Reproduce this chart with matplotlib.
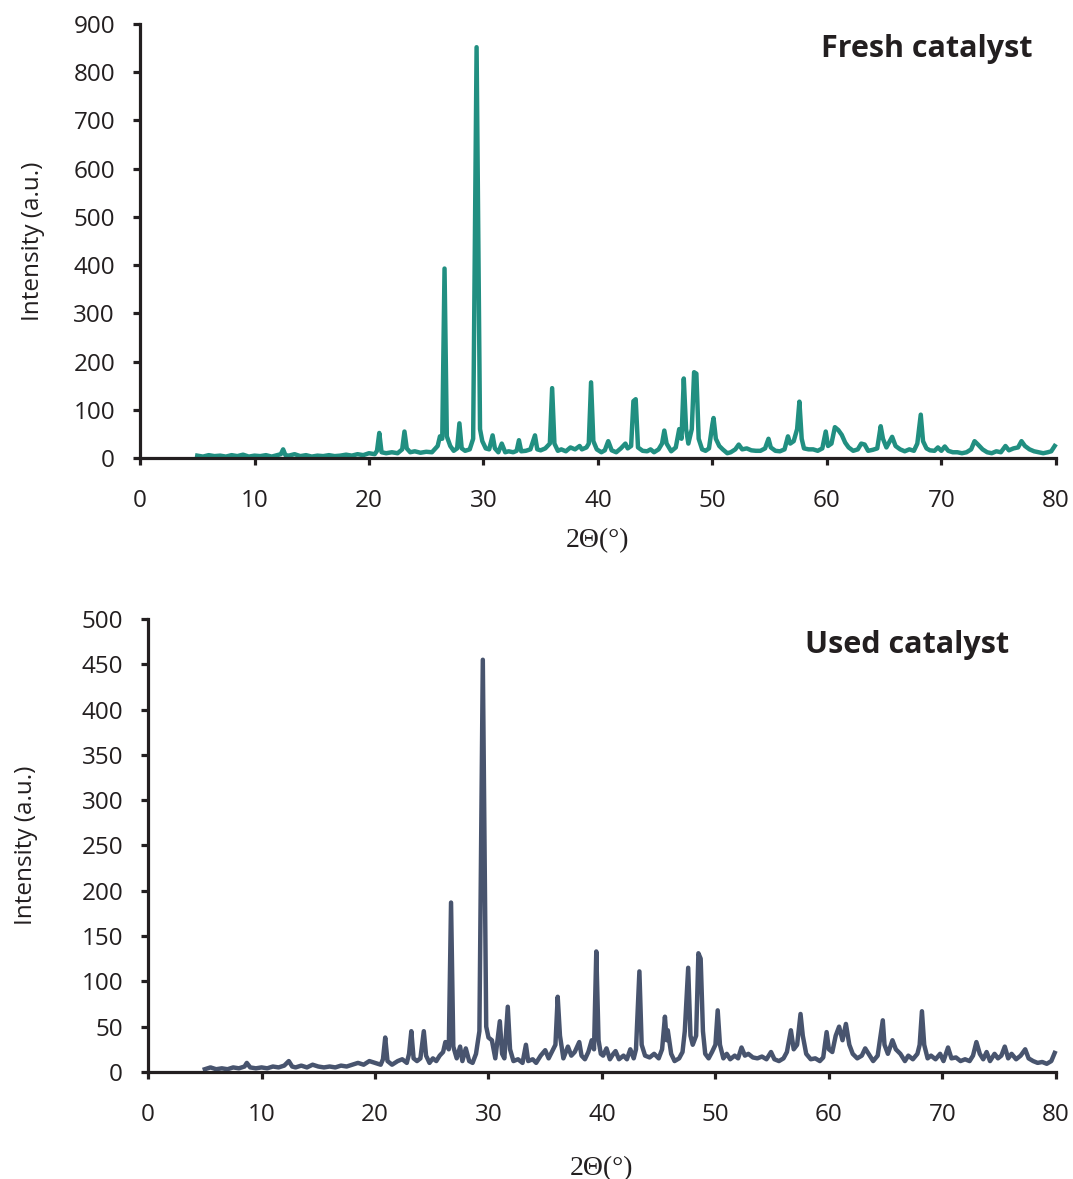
import matplotlib
matplotlib.use("Agg")
import matplotlib.pyplot as plt

# XRD pattern: 2-theta (deg) and intensity (a.u.)
fresh_x = [5.0, 5.5, 6.0, 6.5, 7.0, 7.5, 8.0, 8.5, 9.0, 9.5, 10.0, 10.5, 11.0, 11.5, 12.0, 12.3, 12.5, 12.7,
           13.0, 13.5, 14.0, 14.5, 15.0, 15.5, 16.0, 16.5, 17.0, 17.5, 18.0, 18.5, 19.0, 19.5, 20.0, 20.5,
           20.7, 20.9, 21.1, 21.5, 22.0, 22.5, 22.9, 23.1, 23.3, 23.6, 24.0, 24.5, 25.0, 25.5, 26.0, 26.2,
           26.4, 26.6, 26.8, 27.1, 27.4, 27.7, 27.9, 28.1, 28.4, 28.8, 29.1, 29.4, 29.7, 29.9, 30.2, 30.5,
           30.8, 31.0, 31.3, 31.6, 31.9, 32.2, 32.6, 32.9, 33.1, 33.3, 33.7, 34.1, 34.5, 34.7, 35.0, 35.4,
           35.8, 36.0, 36.2, 36.5, 36.8, 37.2, 37.6, 38.0, 38.4, 38.6, 39.0, 39.2, 39.4, 39.6, 39.9, 40.3,
           40.6, 40.9, 41.2, 41.6, 42.0, 42.4, 42.6, 42.9, 43.1, 43.3, 43.5, 43.9, 44.3, 44.6, 44.9, 45.3,
           45.6, 45.8, 46.0, 46.4, 46.8, 47.1, 47.3, 47.5, 47.7, 47.9, 48.2, 48.4, 48.6, 48.8, 49.1, 49.4,
           49.7, 50.0, 50.1, 50.3, 50.6, 50.9, 51.3, 51.6, 52.0, 52.3, 52.6, 53.0, 53.4, 53.8, 54.2, 54.6,
           54.9, 55.1, 55.5, 55.9, 56.3, 56.6, 56.8, 57.1, 57.4, 57.6, 57.8, 58.0, 58.4, 58.8, 59.2, 59.6,
           59.9, 60.1, 60.4, 60.7, 61.0, 61.3, 61.6, 61.9, 62.3, 62.7, 63.0, 63.3, 63.6, 64.0, 64.4, 64.7,
           64.9, 65.2, 65.5, 65.7, 66.0, 66.4, 66.8, 67.2, 67.6, 67.9, 68.2, 68.4, 68.7, 69.0, 69.4, 69.7,
           70.0, 70.3, 70.6, 71.0, 71.4, 71.8, 72.2, 72.6, 72.9, 73.2, 73.6, 74.0, 74.4, 74.8, 75.2, 75.6,
           75.9, 76.3, 76.7, 77.0, 77.3, 77.7, 78.1, 78.5, 78.9, 79.3, 79.6, 79.9]
fresh_y = [5, 3, 6, 4, 5, 3, 6, 4, 7, 3, 5, 4, 6, 3, 6, 8, 18, 6,
           5, 8, 4, 6, 3, 5, 4, 6, 4, 5, 7, 5, 8, 6, 10, 8,
           15, 52, 12, 10, 12, 10, 18, 55, 20, 12, 14, 11, 13, 12, 25, 45,
           40, 393, 45, 25, 15, 20, 72, 20, 15, 18, 40, 852, 60, 35, 20, 18,
           47, 20, 12, 30, 12, 14, 12, 15, 37, 14, 15, 18, 47, 18, 16, 20,
           30, 145, 30, 15, 18, 14, 22, 18, 25, 18, 22, 30, 157, 35, 18, 12,
           16, 35, 16, 12, 20, 30, 20, 25, 118, 122, 22, 15, 14, 18, 12, 18,
           30, 57, 30, 14, 22, 60, 40, 165, 60, 30, 60, 178, 175, 40, 18, 15,
           20, 70, 83, 40, 25, 18, 10, 12, 18, 28, 18, 20, 16, 15, 15, 20,
           40, 22, 15, 14, 18, 45, 30, 35, 60, 117, 40, 20, 18, 18, 15, 20,
           55, 25, 30, 64, 58, 48, 32, 22, 15, 18, 30, 28, 15, 17, 20, 66,
           40, 22, 35, 44, 25, 18, 14, 18, 15, 30, 90, 35, 20, 16, 15, 22,
           15, 24, 15, 12, 12, 10, 12, 18, 35, 28, 18, 12, 10, 14, 12, 25,
           16, 20, 22, 35, 25, 18, 14, 12, 10, 12, 14, 25]

used_x = [5.0, 5.5, 6.0, 6.5, 7.0, 7.5, 8.0, 8.5, 8.7, 9.0, 9.5, 10.0, 10.5, 11.0, 11.5, 12.0, 12.4, 12.7,
          13.0, 13.5, 14.0, 14.5, 15.0, 15.5, 16.0, 16.5, 17.0, 17.5, 18.0, 18.5, 19.0, 19.5, 20.0, 20.5,
          20.7, 20.9, 21.1, 21.5, 22.0, 22.4, 22.8, 23.0, 23.2, 23.4, 23.7, 24.0, 24.3, 24.5, 24.8, 25.1,
          25.4, 25.7, 26.0, 26.2, 26.5, 26.7, 26.9, 27.2, 27.5, 27.7, 28.0, 28.3, 28.6, 28.9, 29.2, 29.5,
          29.8, 30.0, 30.3, 30.6, 31.0, 31.2, 31.4, 31.7, 31.9, 32.2, 32.6, 33.0, 33.3, 33.5, 33.9, 34.2,
          34.6, 35.0, 35.3, 35.7, 35.9, 36.1, 36.3, 36.6, 37.0, 37.3, 37.6, 38.0, 38.2, 38.5, 38.8, 39.1,
          39.3, 39.5, 39.7, 39.9, 40.1, 40.4, 40.7, 41.0, 41.2, 41.5, 41.9, 42.2, 42.5, 42.8, 43.0, 43.3,
          43.5, 43.8, 44.2, 44.6, 45.0, 45.3, 45.55, 45.7, 45.8, 46.1, 46.4, 46.8, 47.1, 47.3, 47.6, 47.8,
          48.0, 48.3, 48.5, 48.7, 48.9, 49.1, 49.4, 49.7, 50.0, 50.2, 50.4, 50.7, 51.0, 51.3, 51.7, 52.0,
          52.3, 52.6, 52.9, 53.3, 53.7, 54.1, 54.5, 54.9, 55.2, 55.6, 56.0, 56.3, 56.65, 56.9, 57.2, 57.5,
          57.7, 58.0, 58.4, 58.8, 59.2, 59.5, 59.8, 60.0, 60.3, 60.6, 60.9, 61.2, 61.5, 61.8, 62.1, 62.5,
          62.9, 63.2, 63.5, 63.9, 64.3, 64.75, 64.9, 65.2, 65.6, 65.9, 66.3, 66.7, 67.0, 67.4, 67.8, 68.0,
          68.2, 68.4, 68.7, 69.0, 69.4, 69.8, 70.1, 70.5, 70.8, 71.2, 71.6, 72.0, 72.4, 72.7, 73.0, 73.3,
          73.6, 73.9, 74.2, 74.6, 74.9, 75.2, 75.5, 75.8, 76.1, 76.5, 76.9, 77.3, 77.6, 78.0, 78.4, 78.8,
          79.2, 79.6, 79.9]
used_y = [3, 5, 3, 4, 3, 5, 4, 6, 10, 5, 4, 5, 4, 6, 5, 7, 12, 6,
          5, 7, 5, 8, 6, 5, 6, 5, 7, 6, 8, 10, 8, 12, 10, 8,
          14, 38, 12, 8, 12, 14, 10, 20, 45, 15, 12, 15, 45, 18, 10, 15,
          12, 18, 22, 33, 25, 187, 28, 15, 28, 12, 26, 12, 10, 20, 45, 455,
          50, 38, 35, 15, 56, 20, 15, 72, 25, 12, 14, 10, 30, 12, 14, 10,
          18, 24, 15, 25, 30, 83, 40, 15, 28, 18, 22, 33, 18, 14, 22, 35,
          25, 133, 35, 20, 18, 26, 14, 20, 23, 14, 18, 14, 25, 15, 25, 111,
          30, 18, 16, 20, 15, 25, 61, 35, 46, 20, 12, 15, 22, 45, 115, 40,
          30, 40, 131, 125, 45, 20, 15, 22, 30, 68, 30, 15, 20, 14, 18, 15,
          27, 18, 20, 16, 15, 17, 14, 22, 14, 12, 15, 22, 46, 25, 30, 64,
          40, 20, 14, 15, 12, 16, 44, 25, 22, 40, 50, 35, 53, 30, 20, 15,
          18, 26, 20, 12, 18, 57, 30, 20, 35, 25, 20, 12, 18, 14, 20, 30,
          67, 30, 15, 18, 14, 20, 12, 27, 15, 16, 12, 14, 12, 18, 33, 20,
          14, 22, 12, 20, 15, 18, 28, 15, 20, 14, 18, 25, 15, 12, 10, 11,
          9, 12, 21]

fresh_ticks = [0, 100, 200, 300, 400, 500, 600, 700, 800, 900]
used_ticks = [0, 50, 100, 150, 200, 250, 300, 350, 400, 450, 500]
x_ticks = [0, 10, 20, 30, 40, 50, 60, 70, 80]

plt.rcParams['font.family'] = ['Open Sans', 'DejaVu Sans']

fig = plt.figure(figsize=(10.73, 11.79), dpi=100)
ax1 = fig.add_axes([0.1305, 0.6115, 0.8535, 0.3681])
ax2 = fig.add_axes([0.1380, 0.0908, 0.8460, 0.3842])


def style(ax, yticks, label, label_xy, ypad, xpad):
    ax.set_xlim(0, 80)
    ax.set_ylim(0, yticks[-1])
    ax.set_xticks(x_ticks)
    ax.set_yticks(yticks)
    for side in ['top', 'right']:
        ax.spines[side].set_visible(False)
    for side in ['left', 'bottom']:
        ax.spines[side].set_linewidth(2.3)
        ax.spines[side].set_color('#231f20')
    ax.tick_params(direction='out', length=5, width=2.3, color='#231f20',
                   labelsize=17.5, labelcolor='#231f20')
    ax.tick_params(axis='y', pad=13)
    ax.tick_params(axis='x', pad=17)
    ax.set_ylabel('Intensity (a.u.)', fontsize=17.5, color='#231f20', labelpad=ypad)
    ax.set_xlabel('2Θ(°)', fontsize=20, family='Liberation Serif', color='#231f20', labelpad=xpad)
    ax.text(label_xy[0], label_xy[1], label, transform=ax.transAxes, ha='right', va='center',
            fontsize=22, fontweight='bold', color='#231f20')


ax1.plot(fresh_x, fresh_y, color='#218f81', linewidth=3.2, solid_joinstyle='round', clip_on=False)
style(ax1, fresh_ticks, 'Fresh catalyst', (0.975, 0.942), 20, 11)

ax2.plot(used_x, used_y, color='#48546e', linewidth=3.2, solid_joinstyle='round', clip_on=False)
style(ax2, used_ticks, 'Used catalyst', (0.949, 0.943), 31, 21)

fig.savefig('out.png', dpi=100)
